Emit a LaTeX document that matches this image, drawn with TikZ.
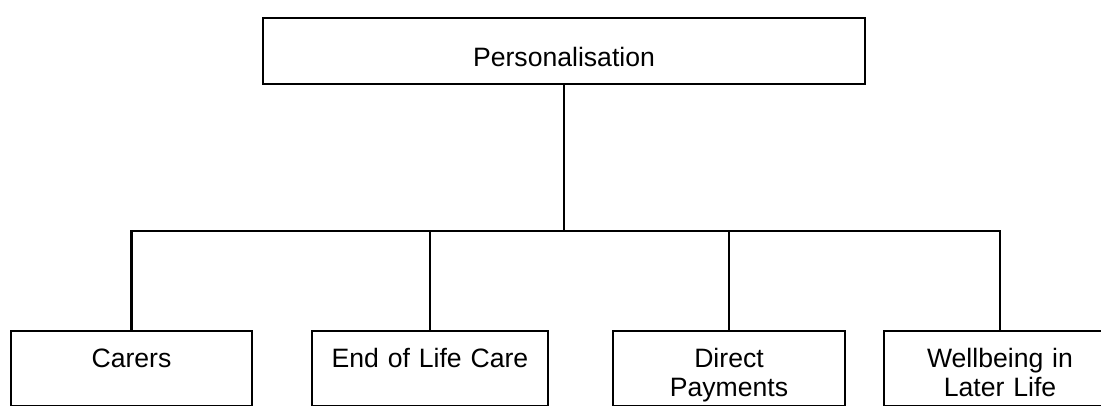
\documentclass[tikz,border=0pt]{standalone}
\usepackage{fontspec}
\setmainfont{Liberation Sans}

\begin{document}
\begin{tikzpicture}[x=0.5pt,y=-0.5pt,line width=1.1pt,
                    every node/.style={font=\fontsize{13.3}{14.6}\selectfont}]
  \tikzstyle{topic}=[draw,anchor=north,inner sep=0pt,align=center,
                     text height=18pt,text depth=19.5pt]
  \useasboundingbox (0,0) rectangle (1101,406);

  \node[draw,anchor=north,inner sep=0pt,align=center,text width=301pt,
        text height=24pt,text depth=9pt] (pers) at (564,17) {Personalisation};

  \node[topic,text width=120.5pt] (carers) at (131.5,330) {Carers};
  \node[topic,text width=118pt]   (eolc)   at (430,330)   {End of Life Care};
  \node[topic,text width=116pt]   (dp)     at (729,330)   {Direct\\Payments};
  \node[topic,text width=116pt]   (wb)     at (1000,330)  {Wellbeing in\\Later Life};

  % tree connectors
  \coordinate (hub) at (564,231);
  \draw (pers.south) -- (hub);
  \draw (carers.north) |- (hub) -| (wb.north);
  \draw (eolc.north) -- (eolc.north |- hub);
  \draw (dp.north) -- (dp.north |- hub);
\end{tikzpicture}
\end{document}
